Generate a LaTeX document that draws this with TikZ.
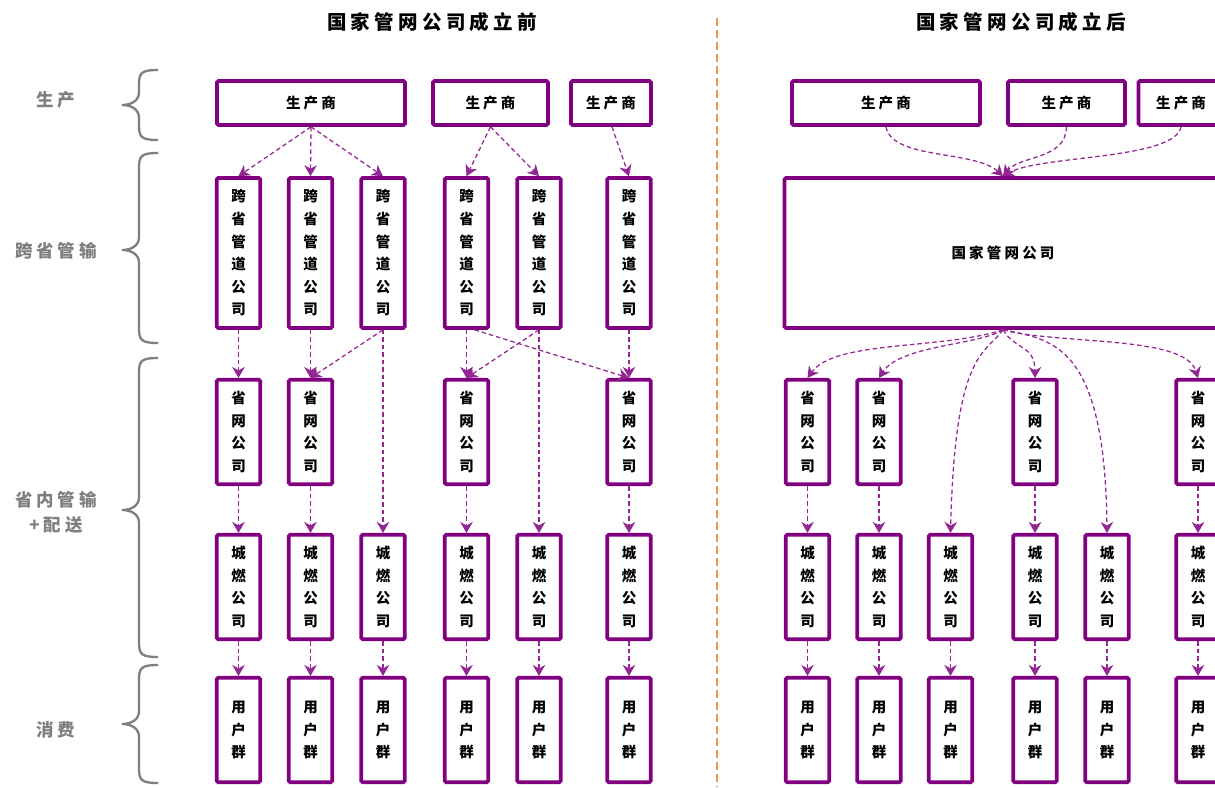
\documentclass[tikz,border=0pt]{standalone}
\usepackage{fontspec}
\newfontfamily\cjk{Noto Sans CJK SC}
\newfontfamily\cjksp{Noto Sans CJK SC}[LetterSpace=22]
\usetikzlibrary{arrows.meta}
\definecolor{pur}{HTML}{800080}
\definecolor{gry}{HTML}{7F7F7F}
\definecolor{org}{HTML}{F79646}
\tikzset{
  box/.style={draw=pur, line width=3.6pt, rounded corners=1.5pt, inner sep=0pt, fill=white,
    text=black, align=center, font=\cjk\bfseries\fontsize{14.5}{22.6}\selectfont},
  hbox/.style={box, minimum height=44pt, font=\cjksp\bfseries\fontsize{14.5}{17}\selectfont},
  pipe/.style={box, minimum width=43.5pt, minimum height=150pt},
  sbox/.style={box, minimum width=43.5pt, minimum height=104.5pt},
  arr/.style={draw=pur!85, line width=1.25pt, dash pattern=on 4.5pt off 3pt,
    -{Stealth[length=11pt,width=12.5pt,inset=3.5pt]}},
  ttl/.style={font=\cjksp\bfseries\fontsize{19.5}{22}\selectfont, text=black},
  lbl/.style={font=\cjksp\bfseries\fontsize{17.5}{25}\selectfont, text=gry, align=center},
  brc/.style={draw=gry, line width=2.3pt},
}
\newcommand\mybrace[3]{%
  \draw[brc] (158,#1) .. controls (141,#1) and (139,{#1+3}) .. (139,{#1+15})
    -- (139,{#2-13}) .. controls (139,{#2-4}) and (131,#2) .. (122,#2)
    .. controls (131,#2) and (139,{#2+4}) .. (139,{#2+13})
    -- (139,{#3-15}) .. controls (139,{#3-3}) and (141,#3) .. (158,#3);}
\begin{document}
\begin{tikzpicture}[x=1pt,y=-1pt]
\clip (0,0) rectangle (1215,787);
\fill[white] (0,0) rectangle (1215,787);

% titles and divider
\node[ttl] (T1) at (432,22) {国家管网公司成立前};
\node[ttl] (T2) at (1021,22) {国家管网公司成立后};
\coordinate (D1) at (717,18);
\coordinate (D2) at (717,787);
\draw[org, line width=2.2pt, dash pattern=on 8pt off 4pt] (D1) -- (D2);

% left labels and braces
\node[lbl] (Lp) at (56,100) {生产};
\node[lbl] (Lk) at (56,251) {跨省管输};
\node[lbl] (Ls) at (56,512) {省内管输\\+配送};
\node[lbl] (Lx) at (56,730) {消费};
\mybrace{70}{105}{140}
\mybrace{153}{250}{343}
\mybrace{358}{510}{657}
\mybrace{665}{724}{783}

% ===== before =====
\node[hbox, minimum width=188pt] (P1) at (311,103) {生产商};
\node[hbox, minimum width=115pt] (P2) at (490.5,103) {生产商};
\node[hbox, minimum width=80pt] (P3) at (611,103) {生产商};

\foreach \i/\x in {1/238.5,2/310.5,3/383,4/466.5,5/539,6/629}{
  \node[pipe] (K\i) at (\x,253) {跨\\省\\管\\道\\公\\司};
  \node[sbox] (C\i) at (\x,587) {城\\燃\\公\\司};
  \node[sbox] (U\i) at (\x,730) {用\\户\\群};
  \draw[arr] (C\i.south) -- (U\i.north);
}
\foreach \i/\x in {1/238.5,2/310.5,4/466.5,6/629}{
  \node[sbox] (S\i) at (\x,432) {省\\网\\公\\司};
  \draw[arr] (S\i.south) -- (C\i.north);
  \draw[arr] (K\i.south) -- (S\i.north);
}
\draw[arr] (P1.south) -- (K1.north);
\draw[arr] (P1.south) -- (K2.north);
\draw[arr] (P1.south) -- (K3.north);
\draw[arr] (P2.south) -- (K4.north);
\draw[arr] (P2.south) -- (K5.north);
\draw[arr] ([xshift=1pt]P3.south) -- (K6.north);
\draw[arr] (K3.south) -- (S2.north);
\draw[arr] (K3.south) -- (C3.north);
\draw[arr] ([xshift=8pt]K4.south) -- (S6.north);
\draw[arr] (K5.south) -- (S4.north);
\draw[arr] (K5.south) -- (C5.north);

% ===== after =====
\node[hbox, minimum width=188pt] (Q1) at (886,103) {生产商};
\node[hbox, minimum width=117pt] (Q2) at (1066.5,103) {生产商};
\node[hbox, minimum width=85pt] (Q3) at (1181,103) {生产商};
\node[box, minimum width=437pt, minimum height=150pt, font=\cjksp\bfseries\fontsize{14.5}{17}\selectfont] (N) at (1003,253) {国家管网公司};

\foreach \i/\x in {1/807.5,2/879,3/950.5,4/1035,5/1107,6/1198}{
  \node[sbox] (RC\i) at (\x,587) {城\\燃\\公\\司};
  \node[sbox] (RU\i) at (\x,730) {用\\户\\群};
  \draw[arr] (RC\i.south) -- (RU\i.north);
}
\foreach \i/\x in {1/807.5,2/879,4/1035,6/1198}{
  \node[sbox] (RS\i) at (\x,432) {省\\网\\公\\司};
  \draw[arr] (RS\i.south) -- (RC\i.north);
}
\draw[arr] (Q1.south) .. controls (892,160) and (975,150) .. (N.north);
\draw[arr] (Q2.south) .. controls (1066,160) and (1020,155) .. (N.north);
\draw[arr] (Q3.south) .. controls (1175,160) and (1040,155) .. (N.north);

\draw[arr] (N.south) .. controls (940,350) and (835,340) .. (RS1.north);
\draw[arr] (N.south) .. controls (980,345) and (900,345) .. (RS2.north);
\draw[arr] (N.south) .. controls (985,355) and (955,350) .. (RC3.north);
\draw[arr] (N.south) .. controls (1015,350) and (1035,345) .. (RS4.north);
\draw[arr] (N.south) .. controls (1050,340) and (1105,340) .. (RC5.north);
\draw[arr] (N.south) .. controls (1060,345) and (1185,335) .. (RS6.north);
\end{tikzpicture}
\end{document}
